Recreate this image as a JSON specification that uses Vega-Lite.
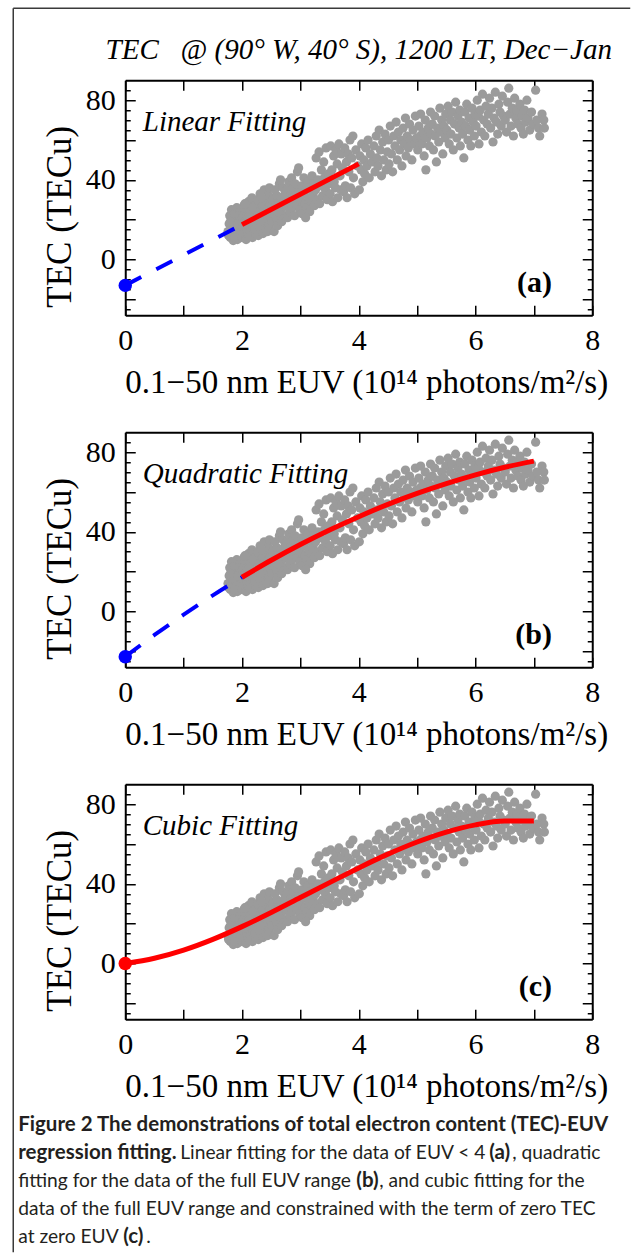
{
  "$schema": "https://vega.github.io/schema/vega-lite/v6.json",
  "padding": {"left": 12.25, "top": 7.25, "right": 3, "bottom": 2},
  "background": "white",
  "bounds": "flush",
  "spacing": 117,
  "config": {"view": {"stroke": null}},
  "datasets": {
    "obs": [
      {"euv":1.76,"tec":14},{"euv":1.78,"tec":18},{"euv":1.79,"tec":22},{"euv":1.8,"tec":11},{"euv":1.81,"tec":16},{"euv":1.82,"tec":25},{"euv":1.83,"tec":13},{"euv":1.84,"tec":20},{"euv":1.85,"tec":9.5},{"euv":1.86,"tec":17},{"euv":1.87,"tec":23},{"euv":1.88,"tec":15},{"euv":1.89,"tec":12},{"euv":1.9,"tec":19},{"euv":1.91,"tec":26},{"euv":1.92,"tec":10},{"euv":1.93,"tec":14},{"euv":1.94,"tec":21},{"euv":1.95,"tec":17},{"euv":1.96,"tec":12},{"euv":1.97,"tec":24},{"euv":1.98,"tec":19},{"euv":1.99,"tec":15},{"euv":1.8,"tec":19},{"euv":1.85,"tec":15},{"euv":1.9,"tec":13},{"euv":1.95,"tec":22},{"euv":1.77,"tec":12},{"euv":1.87,"tec":11},{"euv":1.93,"tec":18},
      {"euv":2.0,"tec":11},{"euv":2.01,"tec":21},{"euv":2.02,"tec":16},{"euv":2.03,"tec":27},{"euv":2.04,"tec":13},{"euv":2.05,"tec":19},{"euv":2.06,"tec":24},{"euv":2.07,"tec":10},{"euv":2.08,"tec":15},{"euv":2.09,"tec":22},{"euv":2.1,"tec":18},{"euv":2.11,"tec":29},{"euv":2.12,"tec":12},{"euv":2.13,"tec":17},{"euv":2.14,"tec":25},{"euv":2.15,"tec":14},{"euv":2.16,"tec":20},{"euv":2.17,"tec":31},{"euv":2.18,"tec":11},{"euv":2.19,"tec":16},{"euv":2.2,"tec":23},{"euv":2.21,"tec":19},{"euv":2.22,"tec":27},{"euv":2.23,"tec":13},{"euv":2.24,"tec":21},{"euv":2.05,"tec":28},{"euv":2.12,"tec":22},{"euv":2.18,"tec":26},{"euv":2.03,"tec":18},{"euv":2.22,"tec":15},
      {"euv":2.26,"tec":18},{"euv":2.27,"tec":30},{"euv":2.28,"tec":12},{"euv":2.3,"tec":24},{"euv":2.31,"tec":33},{"euv":2.32,"tec":16},{"euv":2.33,"tec":21},{"euv":2.35,"tec":27},{"euv":2.36,"tec":13},{"euv":2.37,"tec":19},{"euv":2.38,"tec":35},{"euv":2.4,"tec":23},{"euv":2.41,"tec":29},{"euv":2.42,"tec":15},{"euv":2.43,"tec":20},{"euv":2.45,"tec":26},{"euv":2.46,"tec":32},{"euv":2.47,"tec":17},{"euv":2.48,"tec":22},{"euv":2.49,"tec":28},{"euv":2.3,"tec":19},{"euv":2.38,"tec":25},{"euv":2.44,"tec":14},{"euv":2.34,"tec":31},{"euv":2.47,"tec":36},
      {"euv":2.51,"tec":19},{"euv":2.52,"tec":30},{"euv":2.54,"tec":24},{"euv":2.55,"tec":14},{"euv":2.56,"tec":35},{"euv":2.58,"tec":27},{"euv":2.59,"tec":21},{"euv":2.6,"tec":32},{"euv":2.61,"tec":17},{"euv":2.63,"tec":28},{"euv":2.64,"tec":38},{"euv":2.65,"tec":23},{"euv":2.67,"tec":31},{"euv":2.68,"tec":19},{"euv":2.69,"tec":26},{"euv":2.7,"tec":36},{"euv":2.72,"tec":29},{"euv":2.73,"tec":22},{"euv":2.74,"tec":33},{"euv":2.57,"tec":25},{"euv":2.66,"tec":40},{"euv":2.62,"tec":24},
      {"euv":2.76,"tec":27},{"euv":2.77,"tec":35},{"euv":2.78,"tec":21},{"euv":2.8,"tec":39},{"euv":2.81,"tec":30},{"euv":2.82,"tec":24},{"euv":2.84,"tec":33},{"euv":2.85,"tec":41},{"euv":2.86,"tec":26},{"euv":2.88,"tec":36},{"euv":2.89,"tec":29},{"euv":2.9,"tec":22},{"euv":2.91,"tec":38},{"euv":2.93,"tec":32},{"euv":2.94,"tec":27},{"euv":2.95,"tec":44},{"euv":2.97,"tec":46},{"euv":2.98,"tec":34},{"euv":2.99,"tec":25},{"euv":2.87,"tec":31},
      {"euv":3.0,"tec":30},{"euv":3.02,"tec":37},{"euv":3.03,"tec":23},{"euv":3.05,"tec":33},{"euv":3.06,"tec":41},{"euv":3.08,"tec":28},{"euv":3.1,"tec":35},{"euv":3.11,"tec":26},{"euv":3.13,"tec":39},{"euv":3.14,"tec":31},{"euv":3.16,"tec":24},{"euv":3.17,"tec":36},{"euv":3.19,"tec":29},{"euv":3.2,"tec":42},{"euv":3.22,"tec":33},{"euv":3.23,"tec":38},{"euv":3.09,"tec":21},{"euv":3.24,"tec":27},
      {"euv":3.26,"tec":35},{"euv":3.27,"tec":51},{"euv":3.29,"tec":30},{"euv":3.3,"tec":40},{"euv":3.32,"tec":54},{"euv":3.33,"tec":28},{"euv":3.35,"tec":37},{"euv":3.36,"tec":45},{"euv":3.38,"tec":32},{"euv":3.4,"tec":49},{"euv":3.41,"tec":41},{"euv":3.43,"tec":35},{"euv":3.44,"tec":56},{"euv":3.46,"tec":30},{"euv":3.48,"tec":43},{"euv":3.49,"tec":38},
      {"euv":3.51,"tec":33},{"euv":3.52,"tec":57},{"euv":3.54,"tec":45},{"euv":3.55,"tec":29},{"euv":3.57,"tec":52},{"euv":3.58,"tec":39},{"euv":3.6,"tec":36},{"euv":3.61,"tec":55},{"euv":3.63,"tec":48},{"euv":3.64,"tec":31},{"euv":3.66,"tec":58},{"euv":3.68,"tec":42},{"euv":3.69,"tec":35},{"euv":3.7,"tec":53},{"euv":3.72,"tec":46},{"euv":3.74,"tec":34},
      {"euv":3.76,"tec":56},{"euv":3.77,"tec":37},{"euv":3.79,"tec":49},{"euv":3.8,"tec":31},{"euv":3.82,"tec":53},{"euv":3.83,"tec":44},{"euv":3.85,"tec":60},{"euv":3.86,"tec":36},{"euv":3.88,"tec":51},{"euv":3.9,"tec":62},{"euv":3.91,"tec":41},{"euv":3.93,"tec":33},{"euv":3.95,"tec":55},{"euv":3.98,"tec":47},
      {"euv":4.01,"tec":35},{"euv":4.02,"tec":52},{"euv":4.04,"tec":45},{"euv":4.05,"tec":58},{"euv":4.07,"tec":39},{"euv":4.09,"tec":50},{"euv":4.1,"tec":43},{"euv":4.12,"tec":56},{"euv":4.14,"tec":47},{"euv":4.16,"tec":60},{"euv":4.18,"tec":41},{"euv":4.2,"tec":53},{"euv":4.23,"tec":49},
      {"euv":4.26,"tec":57},{"euv":4.28,"tec":44},{"euv":4.3,"tec":62},{"euv":4.31,"tec":51},{"euv":4.33,"tec":47},{"euv":4.35,"tec":65},{"euv":4.37,"tec":55},{"euv":4.39,"tec":42},{"euv":4.41,"tec":59},{"euv":4.43,"tec":50},{"euv":4.45,"tec":63},{"euv":4.47,"tec":45},{"euv":4.49,"tec":54},
      {"euv":4.51,"tec":60},{"euv":4.52,"tec":48},{"euv":4.54,"tec":67},{"euv":4.56,"tec":53},{"euv":4.58,"tec":44},{"euv":4.6,"tec":62},{"euv":4.62,"tec":57},{"euv":4.64,"tec":69},{"euv":4.66,"tec":50},{"euv":4.68,"tec":64},{"euv":4.7,"tec":55},{"euv":4.72,"tec":60},{"euv":4.74,"tec":47},
      {"euv":4.76,"tec":66},{"euv":4.78,"tec":58},{"euv":4.8,"tec":71},{"euv":4.81,"tec":52},{"euv":4.83,"tec":62},{"euv":4.85,"tec":56},{"euv":4.87,"tec":68},{"euv":4.89,"tec":60},{"euv":4.91,"tec":50},{"euv":4.93,"tec":65},{"euv":4.95,"tec":58},{"euv":4.97,"tec":72},{"euv":4.99,"tec":61},
      {"euv":5.01,"tec":55},{"euv":5.03,"tec":67},{"euv":5.05,"tec":62},{"euv":5.06,"tec":73},{"euv":5.08,"tec":58},{"euv":5.1,"tec":64},{"euv":5.12,"tec":52},{"euv":5.14,"tec":70},{"euv":5.15,"tec":45},{"euv":5.17,"tec":61},{"euv":5.19,"tec":66},{"euv":5.21,"tec":57},{"euv":5.23,"tec":74},{"euv":5.24,"tec":63},
      {"euv":5.26,"tec":68},{"euv":5.28,"tec":55},{"euv":5.3,"tec":72},{"euv":5.31,"tec":62},{"euv":5.33,"tec":49},{"euv":5.35,"tec":66},{"euv":5.37,"tec":59},{"euv":5.39,"tec":76},{"euv":5.4,"tec":64},{"euv":5.42,"tec":70},{"euv":5.44,"tec":53},{"euv":5.46,"tec":67},{"euv":5.48,"tec":61},{"euv":5.49,"tec":73},
      {"euv":5.51,"tec":65},{"euv":5.53,"tec":77},{"euv":5.55,"tec":58},{"euv":5.57,"tec":70},{"euv":5.58,"tec":63},{"euv":5.6,"tec":74},{"euv":5.62,"tec":55},{"euv":5.64,"tec":68},{"euv":5.66,"tec":79},{"euv":5.68,"tec":61},{"euv":5.7,"tec":72},{"euv":5.72,"tec":66},{"euv":5.74,"tec":57},{"euv":5.73,"tec":75},
      {"euv":5.76,"tec":69},{"euv":5.78,"tec":63},{"euv":5.8,"tec":51},{"euv":5.82,"tec":74},{"euv":5.83,"tec":67},{"euv":5.85,"tec":78},{"euv":5.87,"tec":60},{"euv":5.89,"tec":71},{"euv":5.9,"tec":65},{"euv":5.92,"tec":57},{"euv":5.94,"tec":76},{"euv":5.96,"tec":69},{"euv":5.98,"tec":62},{"euv":5.99,"tec":73},
      {"euv":6.01,"tec":67},{"euv":6.03,"tec":80},{"euv":6.05,"tec":72},{"euv":6.06,"tec":58},{"euv":6.08,"tec":75},{"euv":6.1,"tec":64},{"euv":6.12,"tec":83},{"euv":6.14,"tec":70},{"euv":6.16,"tec":62},{"euv":6.18,"tec":77},{"euv":6.2,"tec":68},{"euv":6.22,"tec":73},{"euv":6.24,"tec":81},
      {"euv":6.26,"tec":66},{"euv":6.28,"tec":76},{"euv":6.3,"tec":59},{"euv":6.32,"tec":71},{"euv":6.34,"tec":84},{"euv":6.36,"tec":69},{"euv":6.38,"tec":63},{"euv":6.4,"tec":78},{"euv":6.42,"tec":74},{"euv":6.44,"tec":67},{"euv":6.46,"tec":82},{"euv":6.48,"tec":72},
      {"euv":6.51,"tec":70},{"euv":6.53,"tec":64},{"euv":6.55,"tec":79},{"euv":6.57,"tec":86},{"euv":6.59,"tec":73},{"euv":6.61,"tec":67},{"euv":6.63,"tec":76},{"euv":6.65,"tec":62},{"euv":6.67,"tec":81},{"euv":6.69,"tec":71},{"euv":6.71,"tec":75},{"euv":6.73,"tec":68},
      {"euv":6.76,"tec":78},{"euv":6.78,"tec":66},{"euv":6.8,"tec":72},{"euv":6.82,"tec":63},{"euv":6.84,"tec":75},{"euv":6.86,"tec":69},{"euv":6.88,"tec":80},{"euv":6.9,"tec":71},{"euv":6.93,"tec":65},{"euv":6.96,"tec":74},{"euv":6.99,"tec":68},
      {"euv":7.03,"tec":85},{"euv":7.05,"tec":70},{"euv":7.08,"tec":66},{"euv":7.1,"tec":62},{"euv":7.14,"tec":73},{"euv":7.17,"tec":70},{"euv":7.18,"tec":66}
    ],
    "fits": [
      {"model":"linear","part":"extrapolated","euv":0,"tec":-13},{"model":"linear","part":"extrapolated","euv":2,"tec":17.5},
      {"model":"linear","part":"fitted","euv":2,"tec":17.5},{"model":"linear","part":"fitted","euv":4,"tec":48},
      {"model":"quadratic","part":"extrapolated","euv":0,"tec":-22.7},{"model":"quadratic","part":"extrapolated","euv":0.5,"tec":-11.8},{"model":"quadratic","part":"extrapolated","euv":1,"tec":-1.6},{"model":"quadratic","part":"extrapolated","euv":1.5,"tec":8.1},{"model":"quadratic","part":"extrapolated","euv":2,"tec":17.2},
      {"model":"quadratic","part":"fitted","euv":2,"tec":17.2},{"model":"quadratic","part":"fitted","euv":2.5,"tec":25.7},{"model":"quadratic","part":"fitted","euv":3,"tec":33.6},{"model":"quadratic","part":"fitted","euv":3.5,"tec":40.9},{"model":"quadratic","part":"fitted","euv":4,"tec":47.6},{"model":"quadratic","part":"fitted","euv":4.5,"tec":53.8},{"model":"quadratic","part":"fitted","euv":5,"tec":59.3},{"model":"quadratic","part":"fitted","euv":5.5,"tec":64.2},{"model":"quadratic","part":"fitted","euv":6,"tec":68.6},{"model":"quadratic","part":"fitted","euv":6.5,"tec":72.4},{"model":"quadratic","part":"fitted","euv":7,"tec":75.5},
      {"model":"cubic","part":"fitted","euv":0,"tec":0},{"model":"cubic","part":"fitted","euv":0.5,"tec":2.6},{"model":"cubic","part":"fitted","euv":1,"tec":6.7},{"model":"cubic","part":"fitted","euv":1.5,"tec":12.1},{"model":"cubic","part":"fitted","euv":2,"tec":18.5},{"model":"cubic","part":"fitted","euv":2.5,"tec":25.6},{"model":"cubic","part":"fitted","euv":3,"tec":33.1},{"model":"cubic","part":"fitted","euv":3.5,"tec":40.6},{"model":"cubic","part":"fitted","euv":4,"tec":48},{"model":"cubic","part":"fitted","euv":4.5,"tec":54.9},{"model":"cubic","part":"fitted","euv":5,"tec":61},{"model":"cubic","part":"fitted","euv":5.5,"tec":66},{"model":"cubic","part":"fitted","euv":6,"tec":69.6},{"model":"cubic","part":"fitted","euv":6.5,"tec":71.5},{"model":"cubic","part":"fitted","euv":7,"tec":71.5}
    ],
    "anchors": [
      {"model":"linear","euv":0,"tec":-13},{"model":"quadratic","euv":0,"tec":-22.7},{"model":"cubic","euv":0,"tec":0}
    ]
  },
  "vconcat": [
    {
      "width": 467, "height": 235,
      "resolve": {"axis": {"x": "independent", "y": "independent"}},
      "layer": [
        {"data": {"name": "obs"}, "mark": {"type": "circle", "size": 85, "color": "#9b9b9b", "opacity": 1},
         "encoding": {
           "x": {"field": "euv", "type": "quantitative", "scale": {"domain": [0, 8], "nice": false, "zero": false},
                 "axis": {"orient": "bottom", "values": [0,1,2,3,4,5,6,7,8], "tickSize": -10, "tickWidth": 1.5, "tickColor": "black", "domainColor": "black", "domainWidth": 2, "grid": false, "labelExpr": "datum.value % 2 === 0 ? datum.label : ''", "labelFont": "Liberation Serif", "labelFontSize": 30, "labelColor": "black", "labelPadding": 20, "labelFlush": false, "labelOverlap": false, "title": "0.1−50 nm EUV (10¹⁴ photons/m²/s)", "titleFont": "Liberation Serif", "titleFontSize": 33, "titleFontWeight": "normal", "titleColor": "black", "titlePadding": 11, "titleX": 241}},
           "y": {"field": "tec", "type": "quantitative", "scale": {"domain": [-28, 90], "nice": false, "zero": false},
                 "axis": {"orient": "left", "values": [-25,-20,-15,-10,-5,0,5,10,15,20,25,30,35,40,45,50,55,60,65,70,75,80,85], "tickSize": {"condition": {"test": "datum.value % 20 === 0", "value": -10}, "value": -5}, "tickWidth": 1.5, "tickColor": "black", "domainColor": "black", "domainWidth": 2, "grid": false, "labelExpr": "datum.value % 40 === 0 ? datum.label : ''", "labelFont": "Liberation Serif", "labelFontSize": 30, "labelColor": "black", "labelPadding": 20, "labelFlush": false, "labelOverlap": false, "title": "TEC (TECu)", "titleFont": "Liberation Serif", "titleFontSize": 35, "titleFontWeight": "normal", "titleColor": "black", "titlePadding": 8, "titleY": 136}}
         }},
        {"data": {"name": "fits"}, "transform": [{"filter": "datum.model === 'linear' && datum.part === 'extrapolated'"}],
         "mark": {"type": "line", "color": "#0000ff", "strokeWidth": 4, "strokeDash": [18, 17]},
         "encoding": {
           "x": {"field": "euv", "type": "quantitative", "scale": {"domain": [0, 8], "nice": false, "zero": false},
                 "axis": {"orient": "top", "values": [0,1,2,3,4,5,6,7,8], "tickSize": -10, "tickWidth": 1.5, "tickColor": "black", "domainColor": "black", "domainWidth": 2, "grid": false, "labels": false, "title": null}},
           "y": {"field": "tec", "type": "quantitative", "scale": {"domain": [-28, 90], "nice": false, "zero": false},
                 "axis": {"orient": "right", "values": [-25,-20,-15,-10,-5,0,5,10,15,20,25,30,35,40,45,50,55,60,65,70,75,80,85], "tickSize": {"condition": {"test": "datum.value % 20 === 0", "value": -10}, "value": -5}, "tickWidth": 1.5, "tickColor": "black", "domainColor": "black", "domainWidth": 2, "grid": false, "labels": false, "title": null}}
         }},
        {"data": {"name": "fits"}, "transform": [{"filter": "datum.model === 'linear' && datum.part === 'fitted'"}],
         "mark": {"type": "line", "color": "#ff0000", "strokeWidth": 5},
         "encoding": {"x": {"field": "euv", "type": "quantitative", "axis": null}, "y": {"field": "tec", "type": "quantitative", "axis": null}}},
        {"data": {"name": "anchors"}, "transform": [{"filter": "datum.model === 'linear'"}],
         "mark": {"type": "circle", "size": 180, "color": "#0000ff", "opacity": 1},
         "encoding": {"x": {"field": "euv", "type": "quantitative", "axis": null}, "y": {"field": "tec", "type": "quantitative", "axis": null}}},
        {"data": {"values": [{"label": "Linear Fitting"}]},
         "mark": {"type": "text", "font": "Liberation Serif", "fontStyle": "italic", "fontSize": 29, "align": "left", "baseline": "alphabetic", "color": "black"},
         "encoding": {"x": {"datum": 0.3, "type": "quantitative", "axis": null}, "y": {"datum": 64.5, "type": "quantitative", "axis": null}, "text": {"field": "label"}}},
        {"data": {"values": [{"label": "(a)"}]},
         "mark": {"type": "text", "font": "Liberation Serif", "fontWeight": "bold", "fontSize": 30, "align": "right", "baseline": "alphabetic", "color": "black"},
         "encoding": {"x": {"datum": 7.31, "type": "quantitative", "axis": null}, "y": {"datum": -16.5, "type": "quantitative", "axis": null}, "text": {"field": "label"}}},
        {"data": {"values": [{"label": "TEC\u00a0\u00a0\u00a0@ (90° W, 40° S), 1200 LT, Dec−Jan"}]},
         "mark": {"type": "text", "font": "Liberation Serif", "fontStyle": "italic", "fontSize": 29, "align": "center", "baseline": "middle", "color": "black"},
         "encoding": {"x": {"datum": 4.0, "type": "quantitative", "axis": null}, "y": {"datum": 105.06, "type": "quantitative", "axis": null}, "text": {"field": "label"}}},
        {"data": {"values": [{}]},
         "mark": {"type": "rule", "color": "#3a3a3a", "strokeWidth": 1.5},
         "encoding": {"x": {"datum": -1.9186, "type": "quantitative", "scale": {"domain": [0, 8], "nice": false, "zero": false}, "axis": null}, "y": {"datum": 126.15, "type": "quantitative", "scale": {"domain": [-28, 90], "nice": false, "zero": false}, "axis": null}, "y2": {"datum": -498.5}}},
        {"data": {"values": [{}]},
         "mark": {"type": "rule", "color": "#3a3a3a", "strokeWidth": 1.5},
         "encoding": {"x": {"datum": -1.9186, "type": "quantitative", "scale": {"domain": [0, 8], "nice": false, "zero": false}, "axis": null}, "x2": {"datum": 8.651}, "y": {"datum": 126.15, "type": "quantitative", "scale": {"domain": [-28, 90], "nice": false, "zero": false}, "axis": null}}}
      ]
    },
    {
      "width": 467, "height": 235,
      "resolve": {"axis": {"x": "independent", "y": "independent"}},
      "layer": [
        {"data": {"name": "obs"}, "mark": {"type": "circle", "size": 85, "color": "#9b9b9b", "opacity": 1},
         "encoding": {
           "x": {"field": "euv", "type": "quantitative", "scale": {"domain": [0, 8], "nice": false, "zero": false},
                 "axis": {"orient": "bottom", "values": [0,1,2,3,4,5,6,7,8], "tickSize": -10, "tickWidth": 1.5, "tickColor": "black", "domainColor": "black", "domainWidth": 2, "grid": false, "labelExpr": "datum.value % 2 === 0 ? datum.label : ''", "labelFont": "Liberation Serif", "labelFontSize": 30, "labelColor": "black", "labelPadding": 20, "labelFlush": false, "labelOverlap": false, "title": "0.1−50 nm EUV (10¹⁴ photons/m²/s)", "titleFont": "Liberation Serif", "titleFontSize": 33, "titleFontWeight": "normal", "titleColor": "black", "titlePadding": 11, "titleX": 241}},
           "y": {"field": "tec", "type": "quantitative", "scale": {"domain": [-28, 90], "nice": false, "zero": false},
                 "axis": {"orient": "left", "values": [-25,-20,-15,-10,-5,0,5,10,15,20,25,30,35,40,45,50,55,60,65,70,75,80,85], "tickSize": {"condition": {"test": "datum.value % 20 === 0", "value": -10}, "value": -5}, "tickWidth": 1.5, "tickColor": "black", "domainColor": "black", "domainWidth": 2, "grid": false, "labelExpr": "datum.value % 40 === 0 ? datum.label : ''", "labelFont": "Liberation Serif", "labelFontSize": 30, "labelColor": "black", "labelPadding": 20, "labelFlush": false, "labelOverlap": false, "title": "TEC (TECu)", "titleFont": "Liberation Serif", "titleFontSize": 35, "titleFontWeight": "normal", "titleColor": "black", "titlePadding": 8, "titleY": 136}}
         }},
        {"data": {"name": "fits"}, "transform": [{"filter": "datum.model === 'quadratic' && datum.part === 'extrapolated'"}],
         "mark": {"type": "line", "color": "#0000ff", "strokeWidth": 4, "strokeDash": [19, 16], "interpolate": "monotone"},
         "encoding": {
           "x": {"field": "euv", "type": "quantitative", "scale": {"domain": [0, 8], "nice": false, "zero": false},
                 "axis": {"orient": "top", "values": [0,1,2,3,4,5,6,7,8], "tickSize": -10, "tickWidth": 1.5, "tickColor": "black", "domainColor": "black", "domainWidth": 2, "grid": false, "labels": false, "title": null}},
           "y": {"field": "tec", "type": "quantitative", "scale": {"domain": [-28, 90], "nice": false, "zero": false},
                 "axis": {"orient": "right", "values": [-25,-20,-15,-10,-5,0,5,10,15,20,25,30,35,40,45,50,55,60,65,70,75,80,85], "tickSize": {"condition": {"test": "datum.value % 20 === 0", "value": -10}, "value": -5}, "tickWidth": 1.5, "tickColor": "black", "domainColor": "black", "domainWidth": 2, "grid": false, "labels": false, "title": null}}
         }},
        {"data": {"name": "fits"}, "transform": [{"filter": "datum.model === 'quadratic' && datum.part === 'fitted'"}],
         "mark": {"type": "line", "color": "#ff0000", "strokeWidth": 5, "interpolate": "monotone"},
         "encoding": {"x": {"field": "euv", "type": "quantitative", "axis": null}, "y": {"field": "tec", "type": "quantitative", "axis": null}}},
        {"data": {"name": "anchors"}, "transform": [{"filter": "datum.model === 'quadratic'"}],
         "mark": {"type": "circle", "size": 180, "color": "#0000ff", "opacity": 1},
         "encoding": {"x": {"field": "euv", "type": "quantitative", "axis": null}, "y": {"field": "tec", "type": "quantitative", "axis": null}}},
        {"data": {"values": [{"label": "Quadratic Fitting"}]},
         "mark": {"type": "text", "font": "Liberation Serif", "fontStyle": "italic", "fontSize": 29, "align": "left", "baseline": "alphabetic", "color": "black"},
         "encoding": {"x": {"datum": 0.3, "type": "quantitative", "axis": null}, "y": {"datum": 64.5, "type": "quantitative", "axis": null}, "text": {"field": "label"}}},
        {"data": {"values": [{"label": "(b)"}]},
         "mark": {"type": "text", "font": "Liberation Serif", "fontWeight": "bold", "fontSize": 30, "align": "right", "baseline": "alphabetic", "color": "black"},
         "encoding": {"x": {"datum": 7.31, "type": "quantitative", "axis": null}, "y": {"datum": -16.5, "type": "quantitative", "axis": null}, "text": {"field": "label"}}}
      ]
    },
    {
      "width": 467, "height": 235,
      "resolve": {"axis": {"x": "independent", "y": "independent"}},
      "layer": [
        {"data": {"name": "obs"}, "mark": {"type": "circle", "size": 85, "color": "#9b9b9b", "opacity": 1},
         "encoding": {
           "x": {"field": "euv", "type": "quantitative", "scale": {"domain": [0, 8], "nice": false, "zero": false},
                 "axis": {"orient": "bottom", "values": [0,1,2,3,4,5,6,7,8], "tickSize": -10, "tickWidth": 1.5, "tickColor": "black", "domainColor": "black", "domainWidth": 2, "grid": false, "labelExpr": "datum.value % 2 === 0 ? datum.label : ''", "labelFont": "Liberation Serif", "labelFontSize": 30, "labelColor": "black", "labelPadding": 20, "labelFlush": false, "labelOverlap": false, "title": "0.1−50 nm EUV (10¹⁴ photons/m²/s)", "titleFont": "Liberation Serif", "titleFontSize": 33, "titleFontWeight": "normal", "titleColor": "black", "titlePadding": 11, "titleX": 241}},
           "y": {"field": "tec", "type": "quantitative", "scale": {"domain": [-28, 90], "nice": false, "zero": false},
                 "axis": {"orient": "left", "values": [-25,-20,-15,-10,-5,0,5,10,15,20,25,30,35,40,45,50,55,60,65,70,75,80,85], "tickSize": {"condition": {"test": "datum.value % 20 === 0", "value": -10}, "value": -5}, "tickWidth": 1.5, "tickColor": "black", "domainColor": "black", "domainWidth": 2, "grid": false, "labelExpr": "datum.value % 40 === 0 ? datum.label : ''", "labelFont": "Liberation Serif", "labelFontSize": 30, "labelColor": "black", "labelPadding": 20, "labelFlush": false, "labelOverlap": false, "title": "TEC (TECu)", "titleFont": "Liberation Serif", "titleFontSize": 35, "titleFontWeight": "normal", "titleColor": "black", "titlePadding": 8, "titleY": 136}}
         }},
        {"data": {"name": "fits"}, "transform": [{"filter": "datum.model === 'cubic'"}],
         "mark": {"type": "line", "color": "#ff0000", "strokeWidth": 5, "interpolate": "monotone"},
         "encoding": {
           "x": {"field": "euv", "type": "quantitative", "scale": {"domain": [0, 8], "nice": false, "zero": false},
                 "axis": {"orient": "top", "values": [0,1,2,3,4,5,6,7,8], "tickSize": -10, "tickWidth": 1.5, "tickColor": "black", "domainColor": "black", "domainWidth": 2, "grid": false, "labels": false, "title": null}},
           "y": {"field": "tec", "type": "quantitative", "scale": {"domain": [-28, 90], "nice": false, "zero": false},
                 "axis": {"orient": "right", "values": [-25,-20,-15,-10,-5,0,5,10,15,20,25,30,35,40,45,50,55,60,65,70,75,80,85], "tickSize": {"condition": {"test": "datum.value % 20 === 0", "value": -10}, "value": -5}, "tickWidth": 1.5, "tickColor": "black", "domainColor": "black", "domainWidth": 2, "grid": false, "labels": false, "title": null}}
         }},
        {"data": {"name": "anchors"}, "transform": [{"filter": "datum.model === 'cubic'"}],
         "mark": {"type": "circle", "size": 180, "color": "#ff0000", "opacity": 1},
         "encoding": {"x": {"field": "euv", "type": "quantitative", "axis": null}, "y": {"field": "tec", "type": "quantitative", "axis": null}}},
        {"data": {"values": [{"label": "Cubic Fitting"}]},
         "mark": {"type": "text", "font": "Liberation Serif", "fontStyle": "italic", "fontSize": 29, "align": "left", "baseline": "alphabetic", "color": "black"},
         "encoding": {"x": {"datum": 0.3, "type": "quantitative", "axis": null}, "y": {"datum": 64.5, "type": "quantitative", "axis": null}, "text": {"field": "label"}}},
        {"data": {"values": [{"label": "(c)"}]},
         "mark": {"type": "text", "font": "Liberation Serif", "fontWeight": "bold", "fontSize": 30, "align": "right", "baseline": "alphabetic", "color": "black"},
         "encoding": {"x": {"datum": 7.31, "type": "quantitative", "axis": null}, "y": {"datum": -16.5, "type": "quantitative", "axis": null}, "text": {"field": "label"}}}
      ]
    },
    {
      "width": 467, "height": 112,
      "encoding": {
        "x": {"datum": 0, "type": "quantitative", "scale": {"domain": [0, 1]}, "axis": null},
        "y": {"field": "line", "type": "ordinal", "scale": {"domain": [1, 2, 3, 4, 5], "padding": 0}, "axis": null},
        "text": {"field": "text"}
      },
      "layer": [
        {"data": {"values": [{"line": 1, "text": "Figure 2 The demonstrations of total electron content (TEC)-EUV"}, {"line": 2, "text": "regression fitting."}]},
         "mark": {"type": "text", "font": "Lato", "fontWeight": "bold", "fontSize": 20.5, "align": "left", "baseline": "middle", "color": "#231f20", "dx": -107, "dy": -11}},
        {"data": {"values": [{"line": 2, "text": "Linear fitting for the data of EUV < 4"}]},
         "mark": {"type": "text", "font": "Lato", "fontSize": 19.2, "align": "left", "baseline": "middle", "color": "#231f20", "dx": 55, "dy": -11}},
        {"data": {"values": [{"line": 2, "text": "(a)"}]},
         "mark": {"type": "text", "font": "Lato", "fontWeight": "bold", "fontSize": 20.5, "align": "left", "baseline": "middle", "color": "#231f20", "dx": 364, "dy": -11}},
        {"data": {"values": [{"line": 2, "text": ", quadratic"}]},
         "mark": {"type": "text", "font": "Lato", "fontSize": 19.2, "align": "left", "baseline": "middle", "color": "#231f20", "dx": 387, "dy": -11}},
        {"data": {"values": [{"line": 3, "text": "fitting for the data of the full EUV range"}, {"line": 4, "text": "data of the full EUV range and constrained with the term of zero TEC"}, {"line": 5, "text": "at zero EUV"}]},
         "mark": {"type": "text", "font": "Lato", "fontSize": 19.2, "align": "left", "baseline": "middle", "color": "#231f20", "dx": -107, "dy": -11}},
        {"data": {"values": [{"line": 3, "text": "(b)"}]},
         "mark": {"type": "text", "font": "Lato", "fontWeight": "bold", "fontSize": 20.5, "align": "left", "baseline": "middle", "color": "#231f20", "dx": 231, "dy": -11}},
        {"data": {"values": [{"line": 3, "text": ", and cubic fitting for the"}]},
         "mark": {"type": "text", "font": "Lato", "fontSize": 19.2, "align": "left", "baseline": "middle", "color": "#231f20", "dx": 254, "dy": -11}},
        {"data": {"values": [{"line": 5, "text": "(c)"}]},
         "mark": {"type": "text", "font": "Lato", "fontWeight": "bold", "fontSize": 20.5, "align": "left", "baseline": "middle", "color": "#231f20", "dx": -2, "dy": -11}},
        {"data": {"values": [{"line": 5, "text": "."}]},
         "mark": {"type": "text", "font": "Lato", "fontSize": 19.2, "align": "left", "baseline": "middle", "color": "#231f20", "dx": 21, "dy": -11}}
      ]
    }
  ]
}
